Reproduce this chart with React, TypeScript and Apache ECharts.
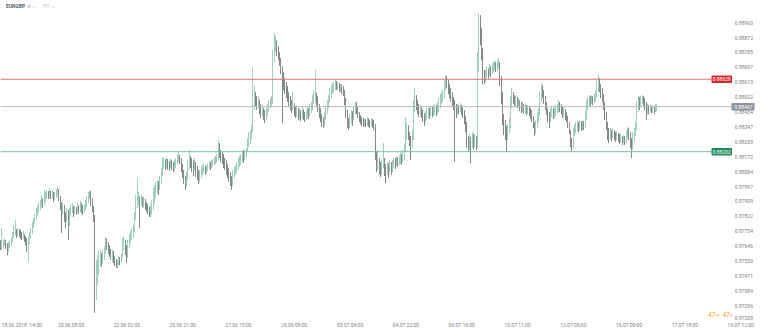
import React, { useEffect, useRef } from "react";
import * as echarts from "echarts";

const SYMBOL = "EURGBP";
const TIMEFRAME = "H1";

// x-axis tick labels (hourly candles, one label every 42 candles)
const xTickLabels = [
  "18.06.2018  14:00", "20.06 08:00", "22.06 02:00", "25.06 21:00", "27.06 15:00",
  "29.06 09:00", "03.07 04:00", "04.07 22:00", "06.07 16:00", "10.07 11:00",
  "12.07 05:00", "16.07 00:00", "17.07 18:00", "19.07 12:00",
];

// y-axis tick labels
const yTickLabels = [
  "0.87209", "0.87296", "0.87384", "0.87471", "0.87559", "0.87646", "0.87734",
  "0.87822", "0.87909", "0.87997", "0.88084", "0.88172", "0.88259", "0.88347",
  "0.88434", "0.88522", "0.88610", "0.88697", "0.88785", "0.88872", "0.88960",
];

// Price levels
const resistanceLevel = 0.88628;
const supportLevel = 0.88202;
const lastPrice = 0.88467;

// Hourly candles, prices x 100000 (open = previous close)
const firstOpenE5 = 87647;
const closeE5 = [
  87636,87647,87659,87671,87653,87636,87647,87659,87677,87706,
  87724,87730,87718,87735,87724,87718,87706,87712,87694,87683,
  87659,87671,87706,87730,87765,87788,87812,87835,87859,87877,
  87888,87906,87900,87918,87941,87953,87941,87959,87947,87953,
  87929,87941,87965,87977,87935,87894,87859,87877,87830,87800,
  87847,87788,87835,87859,87871,87847,87865,87853,87877,87859,
  87882,87871,87847,87865,87888,87918,87935,87959,87918,87871,
  87818,87388,87477,87518,87553,87577,87553,87594,87612,87671,
  87653,87636,87612,87594,87600,87577,87553,87536,87541,87565,
  87553,87577,87636,87671,87624,87577,87647,87683,87706,87730,
  87741,87812,87888,87918,87929,87906,87924,87900,87912,87888,
  87877,87859,87841,87847,87871,87918,87947,87977,88000,87988,
  88024,88065,88118,88135,88124,88141,88129,88118,88135,88124,
  88106,88129,88141,88165,88170,88153,88118,88082,88047,88012,
  88047,88106,88153,88141,88124,88106,88129,88094,88065,88035,
  88059,88082,88094,88106,88088,88100,88112,88124,88118,88129,
  88135,88147,88153,88165,88223,88200,88176,88165,88141,88124,
  88106,88082,88059,88035,88012,88059,88082,88094,88112,88129,
  88141,88153,88170,88165,88188,88200,88241,88270,88294,88329,
  88476,88535,88505,88482,88494,88458,88435,88447,88423,88400,
  88423,88447,88470,88482,88494,88740,88811,88834,88799,88776,
  88740,88693,88652,88611,88588,88564,88529,88505,88482,88458,
  88482,88447,88423,88435,88411,88423,88405,88429,88417,88400,
  88411,88435,88423,88447,88458,88494,88517,88535,88505,88470,
  88435,88400,88376,88364,88400,88435,88470,88505,88535,88564,
  88576,88588,88599,88588,88593,88576,88582,88564,88552,88505,
  88435,88376,88353,88388,88411,88400,88435,88470,88458,88423,
  88400,88382,88376,88364,88376,88364,88382,88370,88364,88376,
  88364,88353,88182,88124,88153,88106,88082,88124,88153,88106,
  88082,88106,88094,88118,88094,88124,88141,88129,88153,88141,
  88153,88165,88153,88176,88212,88300,88341,88306,88270,88241,
  88282,88447,88517,88482,88458,88435,88447,88423,88400,88388,
  88411,88423,88435,88423,88447,88429,88435,88452,88441,88458,
  88482,88505,88523,88535,88576,88623,88611,88576,88552,88529,
  88505,88482,88458,88447,88458,88452,88464,88447,88429,88400,
  88364,88270,88241,88270,88247,88282,88259,88270,88235,88682,
  88976,88917,88799,88670,88635,88646,88670,88658,88682,88670,
  88693,88705,88717,88693,88711,88729,88635,88535,88400,88358,
  88317,88282,88329,88358,88476,88529,88517,88494,88505,88482,
  88494,88470,88452,88470,88447,88458,88441,88452,88435,88423,
  88400,88364,88329,88353,88400,88423,88505,88576,88552,88517,
  88482,88447,88411,88388,88423,88435,88417,88429,88447,88458,
  88470,88458,88447,88423,88435,88411,88400,88364,88329,88270,
  88235,88306,88329,88341,88353,88341,88364,88347,88358,88353,
  88400,88458,88494,88505,88499,88511,88499,88517,88529,88576,
  88611,88588,88552,88529,88482,88423,88364,88317,88294,88306,
  88294,88311,88294,88282,88300,88282,88270,88282,88264,88276,
  88264,88294,88317,88300,88259,88229,88270,88306,88341,88447,
  88494,88482,88505,88517,88499,88482,88447,88458,88447,88458,
  88447,88452,88441,88458,88467,
];
const highE5 = [
  87683,87753,87683,87694,87683,87665,87671,87683,87700,87730,
  87771,87800,87747,87753,87747,87741,87730,87735,87718,87706,
  87694,87706,87730,87753,87788,87812,87835,87871,87888,87906,
  87918,87947,87929,87977,87965,87977,87971,87988,87971,87977,
  87965,87965,87982,87994,87982,87941,87906,87900,87888,87847,
  87871,87859,87871,87894,87900,87882,87888,87877,87900,87888,
  87912,87900,87888,87894,87918,87941,87965,87977,87971,87929,
  87882,87830,87565,87594,87624,87624,87606,87624,87647,87700,
  87694,87671,87653,87630,87624,87618,87588,87571,87565,87588,
  87583,87600,87694,87706,87683,87653,87683,87718,87741,87753,
  87771,87847,87947,88047,87965,87941,87953,87935,87941,87924,
  87906,87894,87877,87882,87918,87988,88006,88024,88035,88029,
  88059,88106,88170,88170,88159,88165,88159,88147,88159,88153,
  88141,88153,88165,88188,88200,88182,88165,88129,88094,88059,
  88082,88153,88212,88176,88165,88153,88165,88141,88118,88094,
  88094,88112,88124,88129,88118,88124,88135,88147,88141,88153,
  88159,88170,88176,88188,88270,88253,88212,88200,88188,88165,
  88153,88129,88106,88082,88059,88094,88112,88124,88141,88165,
  88176,88188,88200,88212,88212,88223,88282,88317,88329,88364,
  88699,88593,88552,88529,88529,88505,88482,88482,88458,88447,
  88458,88482,88505,88517,88529,88799,88899,88882,88858,88823,
  88787,88752,88705,88670,88635,88611,88588,88552,88529,88505,
  88552,88488,88470,88476,88458,88458,88447,88470,88452,88435,
  88447,88470,88458,88482,88494,88535,88564,88682,88552,88529,
  88482,88458,88423,88405,88435,88476,88505,88535,88576,88593,
  88605,88611,88623,88617,88611,88605,88599,88599,88588,88564,
  88517,88447,88400,88423,88447,88441,88470,88494,88494,88470,
  88435,88417,88405,88400,88400,88394,88405,88400,88388,88400,
  88394,88388,88364,88200,88212,88165,88141,88153,88253,88165,
  88129,88141,88135,88153,88141,88153,88165,88165,88176,88170,
  88182,88200,88188,88212,88247,88405,88376,88358,88317,88294,
  88329,88505,88576,88535,88505,88482,88476,88464,88447,88429,
  88441,88458,88464,88458,88470,88464,88470,88482,88476,88494,
  88523,88541,88552,88564,88623,88652,88646,88623,88599,88576,
  88552,88523,88505,88482,88482,88476,88488,88476,88464,88447,
  88411,88376,88294,88306,88288,88317,88306,88306,88294,88787,
  89017,89005,88929,88811,88682,88682,88705,88693,88717,88705,
  88723,88729,88740,88729,88740,88752,88729,88646,88552,88423,
  88388,88353,88364,88400,88529,88576,88552,88535,88529,88523,
  88517,88505,88494,88499,88482,88482,88476,88476,88470,88458,
  88447,88411,88376,88388,88435,88458,88552,88605,88593,88564,
  88529,88494,88458,88435,88458,88470,88458,88458,88476,88482,
  88505,88494,88482,88464,88464,88452,88435,88411,88376,88329,
  88282,88341,88364,88376,88382,88376,88388,88382,88388,88382,
  88447,88505,88523,88535,88529,88535,88529,88541,88564,88623,
  88652,88635,88599,88576,88541,88494,88435,88376,88341,88341,
  88329,88341,88329,88317,88323,88311,88306,88306,88294,88300,
  88294,88329,88347,88341,88317,88282,88317,88341,88376,88494,
  88529,88523,88529,88535,88529,88517,88494,88482,88476,88482,
  88470,88476,88470,88482,88482,
];
const lowE5 = [
  87624,87624,87636,87647,87630,87594,87612,87636,87647,87671,
  87694,87706,87694,87706,87700,87688,87683,87688,87671,87653,
  87612,87553,87659,87694,87718,87753,87776,87800,87824,87847,
  87859,87877,87871,87888,87906,87924,87924,87929,87924,87929,
  87906,87918,87929,87947,87912,87859,87724,87830,87788,87753,
  87788,87683,87765,87824,87841,87818,87835,87830,87847,87835,
  87847,87841,87830,87841,87859,87877,87900,87924,87882,87847,
  87788,87254,87330,87418,87477,87530,87524,87541,87565,87600,
  87624,87600,87583,87565,87553,87547,87530,87518,87518,87530,
  87536,87547,87577,87624,87594,87547,87577,87636,87665,87683,
  87694,87730,87800,87871,87888,87753,87888,87877,87871,87859,
  87847,87835,87818,87818,87830,87859,87900,87929,87953,87947,
  87977,88012,88059,88100,88094,88106,88094,88088,88106,88094,
  88082,88094,88106,88129,88141,88129,88082,88047,88012,87977,
  87994,88035,88094,88106,88082,88059,88094,88053,88035,88012,
  88024,88047,88065,88076,88065,88076,88088,88100,88094,88106,
  88112,88124,88129,88135,88153,88165,88141,88129,88106,88094,
  88065,88047,88024,88000,87977,88000,88047,88065,88076,88094,
  88112,88124,88141,88135,88153,88170,88200,88229,88247,88270,
  88317,88447,88470,88447,88458,88423,88400,88411,88388,88370,
  88388,88411,88435,88458,88470,88482,88729,88787,88764,88740,
  88705,88658,88370,88564,88541,88517,88494,88470,88447,88429,
  88447,88411,88400,88405,88388,88394,88382,88394,88388,88376,
  88388,88400,88394,88411,88429,88447,88482,88494,88470,88435,
  88400,88376,88347,88341,88353,88388,88423,88458,88494,88517,
  88541,88552,88564,88564,88564,88552,88552,88541,88529,88476,
  88400,88341,88329,88341,88364,88353,88388,88423,88423,88400,
  88376,88364,88353,88347,88353,88347,88353,88347,88341,88353,
  88341,88329,88153,88082,88094,88071,88053,88065,88106,88059,
  88018,88065,88047,88076,88065,88082,88106,88100,88118,88112,
  88124,88129,88124,88141,88153,88200,88270,88270,88235,88153,
  88223,88270,88435,88447,88423,88405,88411,88400,88376,88353,
  88376,88388,88400,88394,88411,88405,88411,88417,88411,88423,
  88435,88458,88482,88494,88517,88564,88576,88541,88517,88494,
  88470,88447,88141,88400,88423,88423,88435,88417,88400,88364,
  88317,88223,88200,88212,88135,88223,88212,88229,88212,88223,
  88670,88828,88740,88599,88599,88611,88635,88629,88646,88640,
  88658,88670,88682,88670,88676,88693,88588,88482,88358,88300,
  88270,88200,88270,88311,88341,88458,88482,88464,88470,88458,
  88464,88441,88429,88435,88423,88429,88417,88423,88411,88394,
  88376,88341,88294,88306,88341,88376,88411,88494,88517,88482,
  88447,88417,88376,88341,88376,88405,88394,88400,88411,88429,
  88435,88435,88423,88400,88405,88388,88376,88341,88306,88229,
  88200,88223,88294,88311,88323,88317,88329,88323,88329,88329,
  88341,88388,88447,88470,88470,88482,88476,88488,88494,88517,
  88552,88552,88517,88494,88447,88388,88329,88270,88253,88270,
  88264,88282,88270,88259,88270,88259,88247,88253,88241,88253,
  88241,88253,88282,88270,88223,88165,88212,88259,88294,88329,
  88435,88447,88470,88482,88470,88447,88388,88423,88423,88435,
  88429,88429,88423,88435,88441,
];

const countdownMinutes = "47";
const countdownSeconds = "47";

// axis layout: total hourly slots shown (incl. future space), first labelled slot, label step
const slotCount = 569;
const firstLabelSlot = 11;
const labelStep = 42;

const UP = "#62ae90";
const DOWN = "#2c3a39";
const FONT = "Roboto, 'Noto Sans', sans-serif";

export default function App() {
  const ref = useRef<HTMLDivElement>(null);

  useEffect(() => {
    document.body.style.margin = "0";
    const el = ref.current;
    if (!el) return;
    const chart = echarts.init(el, null, { renderer: "svg" });

    const n = Math.min(closeE5.length, highE5.length, lowE5.length);
    const candles: number[][] = [];
    let prev = firstOpenE5;
    for (let i = 0; i < n; i++) {
      const o = prev / 1e5;
      const c = closeE5[i] / 1e5;
      const h = Math.max(highE5[i] / 1e5, o, c);
      const l = Math.min(lowE5[i] / 1e5, o, c);
      candles.push([o, c, l, h]);
      prev = closeE5[i];
    }
    const categories = Array.from({ length: slotCount }, (_, i) => String(i));

    const yMin = Number(yTickLabels[0]);
    const yStep = 0.0008758;
    const yMax = yMin + yTickLabels.length * yStep;
    const nearestLabel = (v: number) => {
      let best = yTickLabels[0];
      let bd = Infinity;
      for (const l of yTickLabels) {
        const d = Math.abs(Number(l) - v);
        if (d < bd) { bd = d; best = l; }
      }
      return best;
    };

    const levelSeries = (value: number, endSlot: number, line: string, bg: string, pad: number[]) => ({
      type: "line",
      data: [[0, value], [endSlot, value]],
      symbol: "none",
      silent: true,
      z: 3,
      lineStyle: { color: line, width: 1, type: "solid" },
      endLabel: {
        show: true,
        distance: 0,
        formatter: () => value.toFixed(5),
        color: "#ffffff",
        backgroundColor: bg,
        padding: pad,
        fontSize: 5,
        lineHeight: 6,
        fontFamily: FONT,
        borderRadius: 1,
        align: "left",
        verticalAlign: "middle",
      },
    });

    chart.setOption({
      animation: false,
      backgroundColor: "#ffffff",
      grid: { left: 0, right: 4, top: 7.8, bottom: 10.4, containLabel: false, outerBoundsMode: "none" },
      xAxis: {
        type: "category",
        data: categories,
        boundaryGap: true,
        axisLine: { show: false },
        axisTick: { show: false },
        splitLine: { show: false },
        axisLabel: {
          interval: (idx: number) => idx >= firstLabelSlot && (idx - firstLabelSlot) % labelStep === 0,
          formatter: (_v: string, idx: number) => {
            const k = Math.round((idx - firstLabelSlot) / labelStep);
            const t = xTickLabels[k] ?? "";
            return k === 0 ? `{f|${t}}` : t;
          },
          rich: { f: { padding: [0, 0, 0, 13], fontSize: 5, color: "#7d7d7d", fontFamily: FONT } },
          fontSize: 5,
          color: "#7d7d7d",
          fontFamily: FONT,
          margin: 1.5,
        },
      },
      yAxis: {
        type: "value",
        position: "right",
        scale: true,
        min: yMin,
        max: yMax,
        interval: yStep,
        axisLine: { show: false },
        axisTick: { show: false },
        splitLine: { show: false },
        axisLabel: {
          inside: true,
          margin: 3,
          fontSize: 5,
          color: "#7d7d7d",
          fontFamily: FONT,
          showMinLabel: true,
          showMaxLabel: false,
          hideOverlap: false,
          formatter: (v: number) => {
            const t = nearestLabel(v);
            return t === yTickLabels[0] ? `{m|${t}}` : t;
          },
          rich: { m: { padding: [0, 0, 5, 0], fontSize: 5, color: "#7d7d7d", fontFamily: FONT } },
        },
      },
      series: [
        {
          type: "candlestick",
          data: candles,
          barWidth: 0.8,
          z: 2,
          itemStyle: {
            color: UP,
            color0: DOWN,
            borderColor: UP,
            borderColor0: DOWN,
            borderWidth: 0.6,
          },
        },
        levelSeries(resistanceLevel, 535, "#e2726d", "#d8272c", [1, 1.2, 0.5, 1.2]),
        levelSeries(supportLevel, 535, "#74c3a5", "#1f8a5c", [1, 1.2, 0.5, 1.2]),
        levelSeries(lastPrice, 550, "#b9b9b9", "#8d969d", [1, 2, 0.5, 3]),
      ],
      graphic: [
        {
          type: "text",
          left: 6,
          top: 3.5,
          style: { text: SYMBOL, fontSize: 5, fontWeight: "bold", fill: "#555a5e", fontFamily: FONT },
        },
        {
          type: "text",
          left: 27,
          top: 3.5,
          style: { text: "⊞ ⌄", fontSize: 5, fill: "#b5b9bc", fontFamily: FONT },
        },
        {
          type: "text",
          left: 43,
          top: 3.5,
          style: { text: TIMEFRAME + " ⌄", fontSize: 5, fill: "#b5b9bc", fontFamily: FONT },
        },
        {
          type: "text",
          left: 708,
          top: 308.5,
          style: {
            text: `{a|${countdownMinutes}}{b|m} {a|${countdownSeconds}}{b|s}`,
            fontFamily: FONT,
            rich: {
              a: { fontSize: 6.5, fill: "#f4a023", fontFamily: FONT },
              b: { fontSize: 5, fill: "#f0b867", fontFamily: FONT },
            },
          },
        },
      ],
    });

    return () => chart.dispose();
  }, []);

  return (
    <div
      ref={ref}
      style={{ position: "fixed", left: 0, top: 0, width: 760, height: 331, background: "#fff" }}
    />
  );
}
